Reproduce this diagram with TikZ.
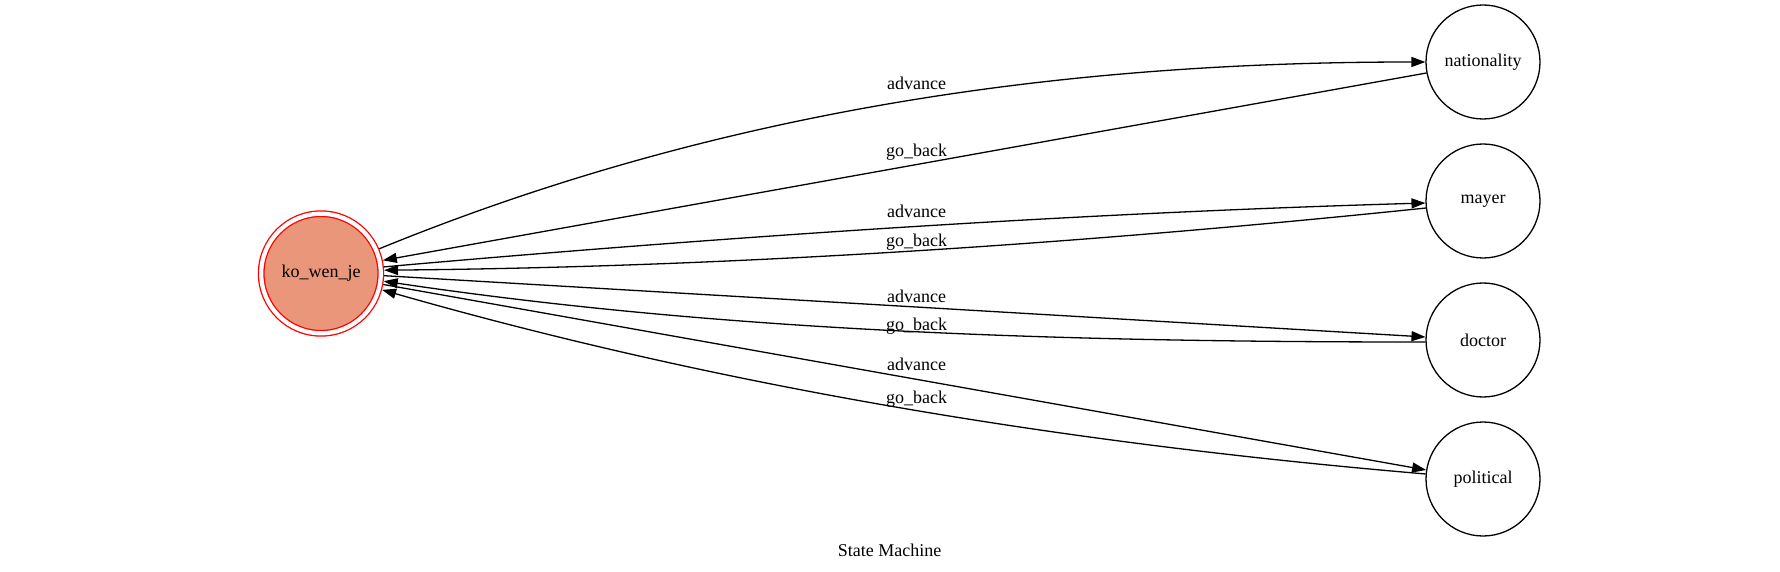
\documentclass[tikz,border=0pt]{standalone}
\usepackage{fontspec}
\setmainfont{Liberation Serif}
\usetikzlibrary{arrows.meta}
\definecolor{darksalmon}{RGB}{233,150,122}
\tikzstyle{state}=[circle,draw=black,line width=1.3bp,
                   inner sep=0pt,minimum size=114bp,outer sep=0.6bp]
\tikzstyle{initstate}=[circle,draw=red,fill=darksalmon,line width=1.3bp,
                       double=white,double distance=4.2bp,
                       inner sep=0pt,minimum size=119.6bp,outer sep=3.4bp]
\tikzstyle{trans}=[line width=1.3bp,-{Triangle[length=14bp,width=10bp]}]
\tikzstyle{translabel}=[anchor=base,inner sep=0pt]
\begin{document}
\begin{tikzpicture}[x=1bp,y=-1bp,font=\fontsize{18bp}{22bp}\selectfont]
    \useasboundingbox (0,0) rectangle (1780,572);
    \node (ko) at (321,273.5) [initstate]{ko\_wen\_je};
    \node (nat) at (1483,62) [state]{nationality};
    \node (mayer) at (1483,201) [state]{mayer};
    \node (doctor) at (1483,340) [state]{doctor};
    \node (political) at (1483,479) [state]{political};
    \draw[trans] (ko.23) .. controls (731,105) and (1079,62) .. (nat.180);
    \draw[trans] (nat.191) -- (ko.12);
    \draw[trans] (ko.6) .. controls (733,236) and (1080,213) .. (mayer.182);
    \draw[trans] (mayer.187) .. controls (1079,244) and (732,267) .. (ko.3);
    \draw[trans] (ko.-2) -- (doctor.177);
    \draw[trans] (doctor.182) .. controls (1078,342) and (732,333) .. (ko.-7);
    \draw[trans] (ko.-10) -- (political.171);
    \draw[trans] (political.175) .. controls (1079,444.6) and (732,390) .. (ko.-15);
    \node (l1) at (916.5,90) [translabel]{advance};
    \node (l2) at (916.5,157) [translabel]{go\_back};
    \node (l3) at (916.5,218) [translabel]{advance};
    \node (l4) at (916.5,247) [translabel]{go\_back};
    \node (l5) at (916.5,302) [translabel]{advance};
    \node (l6) at (916.5,330) [translabel]{go\_back};
    \node (l7) at (916.5,370) [translabel]{advance};
    \node (l8) at (916.5,403) [translabel]{go\_back};
    \node (title) at (889.5,556) [translabel]{State Machine};
  \end{tikzpicture}
\end{document}
